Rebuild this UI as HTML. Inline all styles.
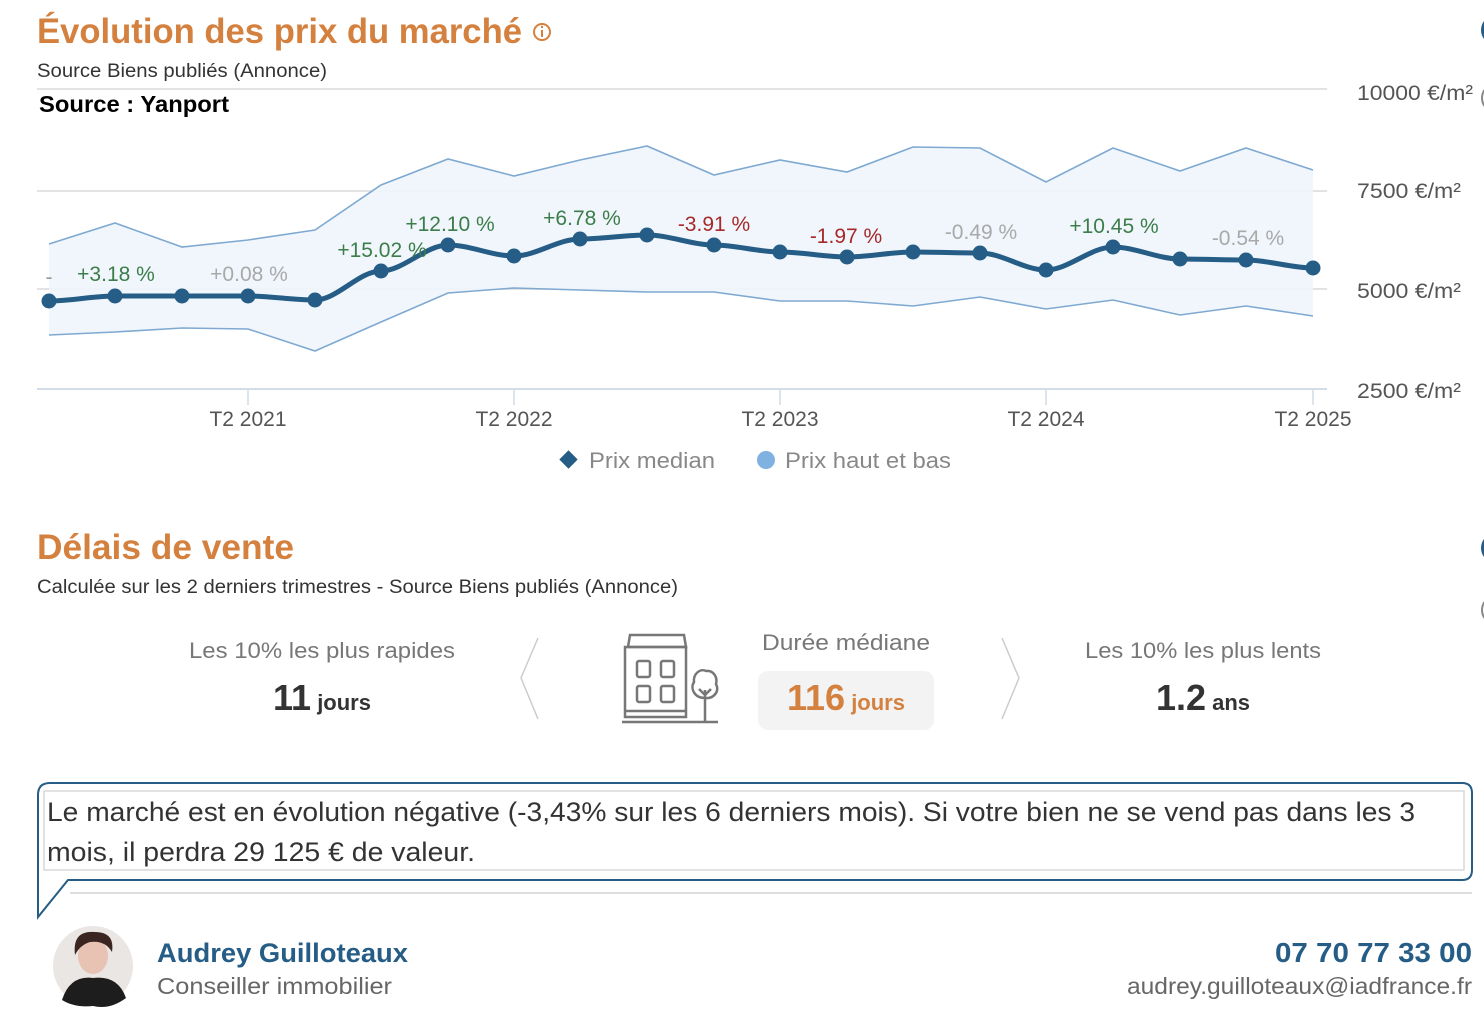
<!DOCTYPE html>
<html><head><meta charset="utf-8"><style>
html,body{margin:0;padding:0;background:#fff;width:1484px;height:1018px;overflow:hidden}
svg{display:block}
text{font-family:"Liberation Sans",sans-serif}
</style></head><body>
<svg width="1484" height="1018" viewBox="0 0 1484 1018" xmlns="http://www.w3.org/2000/svg">
<text x="37" y="43" font-size="35" font-weight="bold" fill="#d4803f" textLength="485" lengthAdjust="spacingAndGlyphs">Évolution des prix du marché</text>
<circle cx="542" cy="32" r="8" fill="none" stroke="#d4803f" stroke-width="2"/>
<rect x="541" y="30" width="2" height="7" fill="#d4803f"/><circle cx="542" cy="27" r="1.2" fill="#d4803f"/>
<text x="37" y="77" font-size="19" fill="#333" textLength="290" lengthAdjust="spacingAndGlyphs">Source Biens publiés (Annonce)</text>
<text x="39" y="112" font-size="23" font-weight="bold" fill="#000" textLength="190" lengthAdjust="spacingAndGlyphs">Source : Yanport</text>
<g stroke="#e3e3e3" stroke-width="2">
<line x1="37" y1="89" x2="1327" y2="89"/><line x1="37" y1="191" x2="1327" y2="191"/><line x1="37" y1="289" x2="1327" y2="289"/>
</g>
<line x1="37" y1="389" x2="1327" y2="389" stroke="#d3dbe6" stroke-width="2"/>
<g stroke="#d3dbe6" stroke-width="1.5"><line x1="248" y1="389" x2="248" y2="405"/><line x1="514" y1="389" x2="514" y2="405"/><line x1="780" y1="389" x2="780" y2="405"/><line x1="1046" y1="389" x2="1046" y2="405"/><line x1="1313" y1="389" x2="1313" y2="405"/></g>
<g font-size="21" fill="#555">
<text x="1357" y="100" textLength="116" lengthAdjust="spacingAndGlyphs">10000 €/m²</text><text x="1357" y="198" textLength="104" lengthAdjust="spacingAndGlyphs">7500 €/m²</text><text x="1357" y="298" textLength="104" lengthAdjust="spacingAndGlyphs">5000 €/m²</text><text x="1357" y="398" textLength="104" lengthAdjust="spacingAndGlyphs">2500 €/m²</text>
</g>
<g font-size="21" fill="#555" text-anchor="middle">
<text x="248" y="426">T2 2021</text><text x="514" y="426">T2 2022</text><text x="780" y="426">T2 2023</text><text x="1046" y="426">T2 2024</text><text x="1313" y="426">T2 2025</text>
</g>
<polygon fill="#eef5fb" fill-opacity="0.9" points="49,244 115,223 182,247 248,240 315,230 381,185 448,159 514,176 580,160 647,146 714,175 780,160 847,172 913,147 980,148 1046,182 1113,148 1180,171 1246,148 1313,170 1313,316 1246,306 1180,315 1113,300 1046,309 980,297 913,306 847,301 780,301 714,292 647,292 580,290 514,288 448,293 381,322 315,351 248,329 182,328 115,332 49,335"/>
<polyline fill="none" stroke="#7fa9d1" stroke-width="1.6" points="49,244 115,223 182,247 248,240 315,230 381,185 448,159 514,176 580,160 647,146 714,175 780,160 847,172 913,147 980,148 1046,182 1113,148 1180,171 1246,148 1313,170"/>
<polyline fill="none" stroke="#7fa9d1" stroke-width="1.6" points="49,335 115,332 182,328 248,329 315,351 381,322 448,293 514,288 580,290 647,292 714,292 780,301 847,301 913,306 980,297 1046,309 1113,300 1180,315 1246,306 1313,316"/>
<path fill="none" stroke="#255d86" stroke-width="5" stroke-linejoin="round" d="M49,301 C71,301 93,296 115,296 C137,296 160,296 182,296 C204,296 226,296 248,296 C270,296 293,300 315,300 C337,300 359,271 381,271 C403,271 426,245 448,245 C470,245 492,256 514,256 C536,256 558,239 580,239 C602,239 625,235 647,235 C669,235 692,245 714,245 C736,245 758,252 780,252 C802,252 825,257 847,257 C869,257 891,252 913,252 C935,252 958,253 980,253 C1002,253 1024,270 1046,270 C1068,270 1091,247 1113,247 C1135,247 1158,259 1180,259 C1202,259 1224,260 1246,260 C1268,260 1291,268 1313,268"/>
<g fill="#255d86">
<circle cx="49" cy="301" r="7.5"/><circle cx="115" cy="296" r="7.5"/><circle cx="182" cy="296" r="7.5"/><circle cx="248" cy="296" r="7.5"/><circle cx="315" cy="300" r="7.5"/><circle cx="381" cy="271" r="7.5"/><circle cx="448" cy="245" r="7.5"/><circle cx="514" cy="256" r="7.5"/><circle cx="580" cy="239" r="7.5"/><circle cx="647" cy="235" r="7.5"/><circle cx="714" cy="245" r="7.5"/><circle cx="780" cy="252" r="7.5"/><circle cx="847" cy="257" r="7.5"/><circle cx="913" cy="252" r="7.5"/><circle cx="980" cy="253" r="7.5"/><circle cx="1046" cy="270" r="7.5"/><circle cx="1113" cy="247" r="7.5"/><circle cx="1180" cy="259" r="7.5"/><circle cx="1246" cy="260" r="7.5"/><circle cx="1313" cy="268" r="7.5"/>
</g>
<g font-size="21" text-anchor="middle">
<text x="49" y="284" fill="#999">-</text>
<text x="116" y="281" fill="#3c7d4a">+3.18 %</text>
<text x="249" y="281" fill="#a9a9a9">+0.08 %</text>
<text x="382" y="257" fill="#3c7d4a">+15.02 %</text>
<text x="450" y="231" fill="#3c7d4a">+12.10 %</text>
<text x="582" y="225" fill="#3c7d4a">+6.78 %</text>
<text x="714" y="231" fill="#a62a2a">-3.91 %</text>
<text x="846" y="243" fill="#a62a2a">-1.97 %</text>
<text x="981" y="239" fill="#a9a9a9">-0.49 %</text>
<text x="1114" y="233" fill="#3c7d4a">+10.45 %</text>
<text x="1248" y="245" fill="#a9a9a9">-0.54 %</text>
</g>
<rect x="562" y="453" width="13" height="13" fill="#255d86" transform="rotate(45 568.5 459.5)"/>
<text x="589" y="468" font-size="22" fill="#888" textLength="126" lengthAdjust="spacingAndGlyphs">Prix median</text>
<circle cx="766" cy="460" r="9" fill="#7fb2e0"/>
<text x="785" y="468" font-size="22" fill="#888" textLength="166" lengthAdjust="spacingAndGlyphs">Prix haut et bas</text>
<circle cx="1496" cy="30" r="15" fill="#255d86"/>
<circle cx="1496" cy="98" r="14" fill="none" stroke="#888" stroke-width="2"/>
<circle cx="1496" cy="548" r="15" fill="#255d86"/>
<circle cx="1496" cy="610" r="14" fill="none" stroke="#888" stroke-width="2"/>
<text x="37" y="559" font-size="35" font-weight="bold" fill="#d4803f" textLength="257" lengthAdjust="spacingAndGlyphs">Délais de vente</text>
<text x="37" y="593" font-size="19" fill="#333" textLength="641" lengthAdjust="spacingAndGlyphs">Calculée sur les 2 derniers trimestres - Source Biens publiés (Annonce)</text>
<text x="322" y="658" font-size="22" fill="#777" text-anchor="middle" textLength="266" lengthAdjust="spacingAndGlyphs">Les 10% les plus rapides</text>
<text x="322" y="710" text-anchor="middle" fill="#333" font-weight="bold"><tspan font-size="36">11</tspan><tspan font-size="22"> jours</tspan></text>
<polyline points="538,638 521,678 538,719" fill="none" stroke="#ccc" stroke-width="1.5"/>
<polyline points="1002,638 1019,678 1002,719" fill="none" stroke="#ccc" stroke-width="1.5"/>
<g fill="none" stroke="#777" stroke-width="2.5">
<path d="M628,647 L630,635 L684,635 L686,647 Z"/>
<rect x="625" y="647" width="61" height="70"/>
<rect x="637" y="661" width="13" height="16" rx="2"/><rect x="661" y="661" width="13" height="16" rx="2"/>
<rect x="637" y="686" width="13" height="16" rx="2"/><rect x="661" y="686" width="13" height="16" rx="2"/>
<line x1="625" y1="711" x2="686" y2="711"/>
<line x1="622" y1="722" x2="718" y2="722"/>
<path d="M705,722 L705,690 M699,689 L705,695 L711,689 M705,698 C694,698 690,688 694,682 C693,674 700,668 706,671 C713,670 718,677 716,684 C720,692 713,699 705,698"/>
</g>
<text x="846" y="650" font-size="22" fill="#777" text-anchor="middle" textLength="168" lengthAdjust="spacingAndGlyphs">Durée médiane</text>
<rect x="758" y="671" width="176" height="59" rx="10" fill="#f3f3f3"/>
<text x="846" y="710" text-anchor="middle" fill="#d4803f" font-weight="bold"><tspan font-size="36">116</tspan><tspan font-size="22"> jours</tspan></text>
<text x="1203" y="658" font-size="22" fill="#777" text-anchor="middle" textLength="236" lengthAdjust="spacingAndGlyphs">Les 10% les plus lents</text>
<text x="1203" y="710" text-anchor="middle" fill="#333" font-weight="bold"><tspan font-size="36">1.2</tspan><tspan font-size="22"> ans</tspan></text>
<rect x="44" y="791" width="1420" height="79" fill="#fff" stroke="#d9d9d9" stroke-width="1.5"/>
<path d="M38,917 L38,795 Q38,783 50,783 L1462,783 Q1472,783 1472,793 L1472,870 Q1472,880 1462,880 L68,880 Z" fill="none" stroke="#255d86" stroke-width="2"/>
<line x1="70" y1="893" x2="1472" y2="893" stroke="#ddd" stroke-width="2"/>
<text x="47" y="821" font-size="27" fill="#333" textLength="1368" lengthAdjust="spacingAndGlyphs">Le marché est en évolution négative (-3,43% sur les 6 derniers mois). Si votre bien ne se vend pas dans les 3</text>
<text x="47" y="861" font-size="27" fill="#333" textLength="428" lengthAdjust="spacingAndGlyphs">mois, il perdra 29 125 € de valeur.</text>
<ellipse cx="93" cy="966" rx="40" ry="40" fill="#e9e6e4"/>
<path d="M62,1000 Q70,975 93,978 Q118,975 126,998 Q110,1010 93,1006 Q75,1008 62,1000 Z" fill="#1d1d1d"/>
<ellipse cx="93" cy="956" rx="15" ry="18" fill="#e8c2b3"/>
<path d="M75,955 Q72,930 95,932 Q115,932 112,952 Q105,940 90,942 Q80,945 75,955 Z" fill="#3a2520"/>
<text x="157" y="962" font-size="27" font-weight="bold" fill="#255d86" textLength="251" lengthAdjust="spacingAndGlyphs">Audrey Guilloteaux</text>
<text x="157" y="994" font-size="23" fill="#666" textLength="235" lengthAdjust="spacingAndGlyphs">Conseiller immobilier</text>
<text x="1472" y="962" font-size="28" font-weight="bold" fill="#255d86" text-anchor="end" textLength="197" lengthAdjust="spacingAndGlyphs">07 70 77 33 00</text>
<text x="1472" y="994" font-size="23" fill="#666" text-anchor="end" textLength="345" lengthAdjust="spacingAndGlyphs">audrey.guilloteaux@iadfrance.fr</text>
</svg>
</body></html>
